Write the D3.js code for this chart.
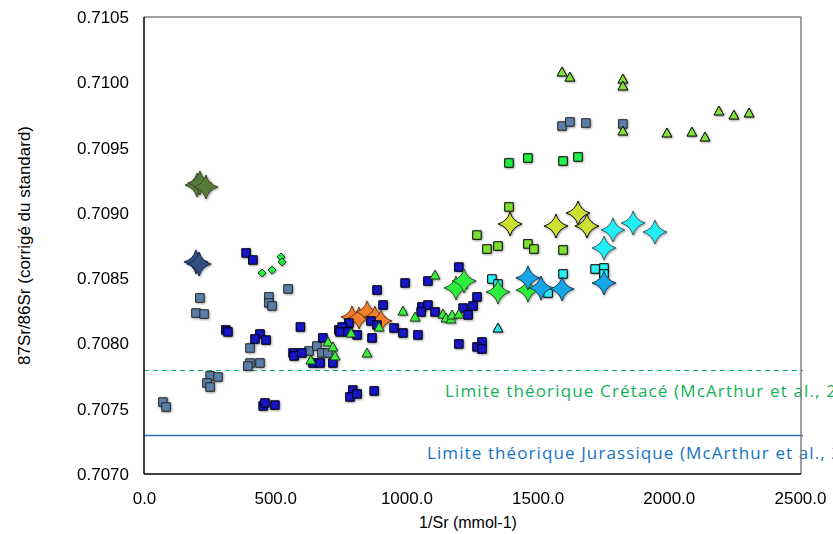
<!DOCTYPE html>
<html>
<head>
<meta charset="utf-8">
<script src="https://cdn.jsdelivr.net/npm/d3@7"></script>
<style>
  html, body { margin: 0; padding: 0; background: #ffffff; }
  svg { display: block; }
</style>
</head>
<body>
<svg id="chart" width="833" height="534"></svg>
<script>
// Axis ticks
const xTicks = [0, 500, 1000, 1500, 2000, 2500];
const yTicks = [0.7070, 0.7075, 0.7080, 0.7085, 0.7090, 0.7095, 0.7100, 0.7105];

// Theoretical seawater limits (87Sr/86Sr)
const limitCretace = 0.7078;
const limitJurassique = 0.7073;
const limitLabels = ["Limite théorique Crétacé (McArthur et al., 2020)",
                     "Limite théorique Jurassique (McArthur et al., 2020)"];

// Samples: [1/Sr (mmol-1), 87Sr/86Sr]
const slateSquares = [
  [213, 0.708348], [198, 0.708233], [229, 0.708225], [476, 0.708356], [476, 0.708310],
  [488, 0.708287], [549, 0.708417], [404, 0.707965], [404, 0.707850], [396, 0.707827],
  [442, 0.707850], [252, 0.707751], [282, 0.707743], [240, 0.707697], [252, 0.707666],
  [72, 0.707551], [84, 0.707513], [629, 0.707942], [659, 0.707980], [678, 0.707927],
  [701, 0.707927], [1593, 0.709665], [1623, 0.709696], [1684, 0.709688], [1825, 0.709681]
];
const navySquares = [
  [389, 0.708693], [415, 0.708639], [312, 0.708103], [320, 0.708088], [442, 0.708072],
  [423, 0.708034], [465, 0.708026], [596, 0.708126], [568, 0.707927], [572, 0.707904],
  [602, 0.707927], [682, 0.708042], [743, 0.708103], [644, 0.707850], [671, 0.707850],
  [720, 0.707850], [454, 0.707521], [461, 0.707544], [499, 0.707528], [888, 0.708409],
  [995, 0.708463], [1082, 0.708478], [911, 0.708294], [1059, 0.708279], [1082, 0.708294],
  [1056, 0.708241], [1109, 0.708241], [1216, 0.708271], [1254, 0.708287], [1269, 0.708356],
  [1235, 0.708218], [1200, 0.708585], [781, 0.708156], [755, 0.708126], [747, 0.708088],
  [777, 0.708088], [812, 0.708065], [865, 0.708172], [888, 0.708141], [869, 0.708042],
  [953, 0.708118], [987, 0.708080], [1044, 0.708065], [1200, 0.707996], [1288, 0.708011],
  [1269, 0.707973], [1288, 0.707957], [796, 0.707643], [785, 0.707590], [812, 0.707613],
  [877, 0.707636]
];
const greenSquares = [[1391, 0.709382], [1463, 0.709420], [1597, 0.709397], [1654, 0.709428]];
const limeSquares = [
  [1391, 0.709045], [1269, 0.708830], [1307, 0.708723], [1349, 0.708746],
  [1463, 0.708762], [1486, 0.708723], [1597, 0.708716]
];
const cyanSquares = [
  [1326, 0.708493], [1349, 0.708455], [1540, 0.708386], [1597, 0.708532],
  [1719, 0.708570], [1753, 0.708578], [1753, 0.708532]
];
const limeTriangles = [
  [1593, 0.710079], [1623, 0.710040], [1825, 0.710025], [1825, 0.709972], [1825, 0.709627],
  [1993, 0.709612], [2088, 0.709619], [2138, 0.709581], [2191, 0.709780], [2248, 0.709749],
  [2306, 0.709765]
];
const greenTriangles = [
  [1109, 0.708524], [987, 0.708248], [1033, 0.708202], [1139, 0.708225], [1151, 0.708195],
  [1170, 0.708187], [1174, 0.708218], [1200, 0.708225], [896, 0.708126], [789, 0.708080],
  [850, 0.707927], [701, 0.708011], [720, 0.707973], [728, 0.707904], [636, 0.707873]
];
const cyanTriangles = [[1349, 0.708118]];
const greenDiamonds = [[522, 0.708662], [526, 0.708624], [488, 0.708562], [450, 0.708539]];

const oliveStars = [[202, 0.709213], [213, 0.709229], [236, 0.709198]];
const navyStars = [[198, 0.708624], [210, 0.708608]];
const orangeStars = [[793, 0.708202], [819, 0.708195], [850, 0.708241], [880, 0.708202], [903, 0.708172]];
const yellowStars = [[1395, 0.708915], [1570, 0.708899], [1654, 0.708999], [1688, 0.708899]];
const greenStars = [[1189, 0.708425], [1220, 0.708478], [1349, 0.708394], [1463, 0.708409]];
const blueStars = [[1463, 0.708501], [1513, 0.708425], [1593, 0.708417], [1753, 0.708463]];
const cyanStars = [[1787, 0.708869], [1864, 0.708922], [1947, 0.708853], [1753, 0.708731]];

const svg = d3.select("#chart");
const plot = { left: 144, right: 800, top: 17, bottom: 474 };

const x = d3.scaleLinear().domain([0, 2500]).range([plot.left, plot.right]);
const y = d3.scaleLinear().domain([0.7070, 0.7105]).range([plot.bottom, plot.top]);
const crisp = v => Math.round(v) + 0.5;

// soft shadow under markers
const defs = svg.append("defs");
const f = defs.append("filter").attr("id", "shadow")
  .attr("x", "-50%").attr("y", "-50%").attr("width", "200%").attr("height", "200%");
f.append("feDropShadow").attr("dx", 0.8).attr("dy", 0.8)
  .attr("stdDeviation", 0.8).attr("flood-color", "#000").attr("flood-opacity", 0.45);

// four-point star with slightly concave sides
function starPath(R) {
  const k = R * 0.22;
  return `M0,${-R}Q${k},${-k} ${R},0Q${k},${k} 0,${R}Q${-k},${k} ${-R},0Q${-k},${-k} 0,${-R}Z`;
}
const shapes = {
  square: s => `M${-s/2},${-s/2}h${s}v${s}h${-s}Z`,
  triangle: s => `M0,${-s*0.55}L${s*0.55},${s*0.45}L${-s*0.55},${s*0.45}Z`,
  diamond: s => `M0,${-s/2}L${s/2},0L0,${s/2}L${-s/2},0Z`,
  star: s => starPath(s)
};

// reference limit lines
const yC = crisp(y(limitCretace));
const yJ = crisp(y(limitJurassique));
svg.append("line")
  .attr("x1", x(0)).attr("x2", x(2500) + 3)
  .attr("y1", yC).attr("y2", yC)
  .attr("stroke", "#14B060").attr("stroke-width", 1).attr("stroke-dasharray", "5,4");
svg.append("line")
  .attr("x1", x(0)).attr("x2", x(2500) + 3)
  .attr("y1", yJ).attr("y2", yJ)
  .attr("stroke", "#2A74BE").attr("stroke-width", 1.5);

const labelFont = "'Open Sans', 'Noto Sans', sans-serif";
svg.append("text")
  .attr("x", 445).attr("y", yC + 26)
  .attr("fill", "#12B157")
  .style("font-family", labelFont).style("font-size", "17px").style("letter-spacing", "1.15px")
  .text(limitLabels[0]);
svg.append("text")
  .attr("x", 427).attr("y", yJ + 23)
  .attr("fill", "#1473C6")
  .style("font-family", labelFont).style("font-size", "17px").style("letter-spacing", "1.1px")
  .text(limitLabels[1]);

// series, drawn in stacking order
const series = [
  { data: oliveStars, shape: "star", size: 12, fill: "#587A38", stroke: "#3A4A2A" },
  { data: navyStars, shape: "star", size: 12, fill: "#2D4F80", stroke: "#1E2E48" },
  { data: orangeStars, shape: "star", size: 11, fill: "#F07E2C", stroke: "#6A3A14" },
  { data: slateSquares, shape: "square", size: 8.5, fill: "#5A80AA", stroke: "#222" },
  { data: navySquares, shape: "square", size: 8.5, fill: "#1212C4", stroke: "#000" },
  { data: greenTriangles, shape: "triangle", size: 9, fill: "#3DEB3D", stroke: "#1A3A1A" },
  { data: limeTriangles, shape: "triangle", size: 9, fill: "#82E03C", stroke: "#000" },
  { data: cyanTriangles, shape: "triangle", size: 9, fill: "#2EE8F0", stroke: "#000" },
  { data: greenDiamonds, shape: "diamond", size: 8, fill: "#22EE44", stroke: "#1A3A1A" },
  { data: greenSquares, shape: "square", size: 8.5, fill: "#22F046", stroke: "#000" },
  { data: limeSquares, shape: "square", size: 8.5, fill: "#7EE034", stroke: "#000" },
  { data: cyanSquares, shape: "square", size: 8.5, fill: "#2EEEF2", stroke: "#000" },
  { data: greenStars, shape: "star", size: 12, fill: "#2EEE3E", stroke: "#2F4F2F" },
  { data: blueStars, shape: "star", size: 12, fill: "#16A6E6", stroke: "#1D3D55" },
  { data: yellowStars, shape: "star", size: 12, fill: "#CCE032", stroke: "#111" },
  { data: cyanStars, shape: "star", size: 12, fill: "#22EEF6", stroke: "#3F5F66" }
];

const marks = svg.append("g").attr("filter", "url(#shadow)");
series.forEach(s => {
  marks.append("g").selectAll("path").data(s.data).join("path")
    .attr("d", shapes[s.shape](s.size))
    .attr("transform", d => `translate(${x(d[0])},${y(d[1])})`)
    .attr("fill", s.fill).attr("stroke", s.stroke).attr("stroke-width", 1);
});

// plot frame
svg.append("line").attr("x1", plot.left).attr("x2", plot.right + 1)
  .attr("y1", plot.top).attr("y2", plot.top).attr("stroke", "#7F7F7F").attr("stroke-width", 1.5);
svg.append("line").attr("x1", plot.right + 1).attr("x2", plot.right + 1)
  .attr("y1", plot.top).attr("y2", plot.bottom).attr("stroke", "#7F7F7F").attr("stroke-width", 1.5);
svg.append("line").attr("x1", plot.left).attr("x2", plot.left)
  .attr("y1", plot.top).attr("y2", plot.bottom).attr("stroke", "#000").attr("stroke-width", 1.5);
svg.append("line").attr("x1", plot.left).attr("x2", plot.right + 1)
  .attr("y1", plot.bottom).attr("y2", plot.bottom).attr("stroke", "#000").attr("stroke-width", 1.5);

// axes (labels only)
const axisFont = "'Liberation Sans', Arial, sans-serif";
const xAxis = svg.append("g").attr("transform", `translate(0,${plot.bottom})`)
  .call(d3.axisBottom(x).tickValues(xTicks).tickFormat(d3.format(".1f")).tickSize(0).tickPadding(18));
const yAxis = svg.append("g").attr("transform", `translate(${plot.left},0)`)
  .call(d3.axisLeft(y).tickValues(yTicks).tickFormat(d3.format(".4f")).tickSize(0).tickPadding(15));
[xAxis, yAxis].forEach(a => {
  a.select(".domain").remove();
  a.selectAll("text").attr("fill", "#000")
    .style("font-family", axisFont).style("font-size", "17px");
});

svg.append("text")
  .attr("x", 468).attr("y", 528)
  .attr("text-anchor", "middle").attr("fill", "#000")
  .style("font-family", axisFont).style("font-size", "16px")
  .text("1/Sr (mmol-1)");
svg.append("text")
  .attr("transform", `translate(30,${(plot.top + plot.bottom) / 2}) rotate(-90)`)
  .attr("text-anchor", "middle").attr("fill", "#000")
  .style("font-family", axisFont).style("font-size", "17px")
  .text("87Sr/86Sr (corrigé du standard)");
</script>
</body>
</html>
